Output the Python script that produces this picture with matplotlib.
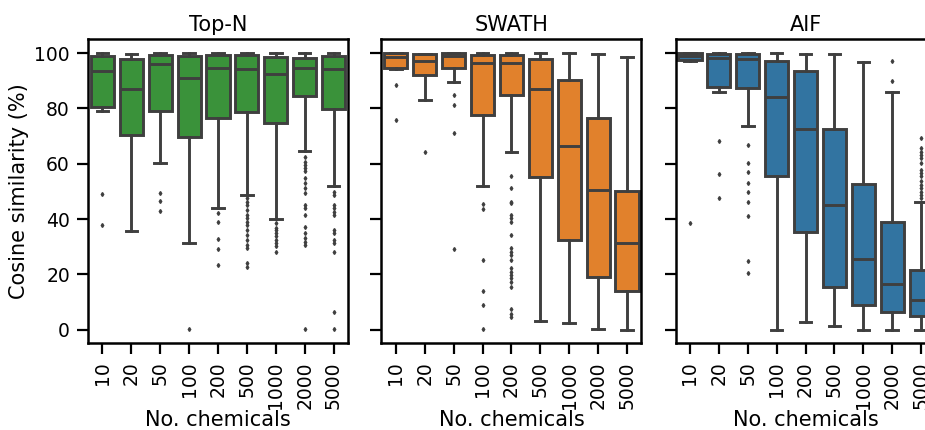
import matplotlib
matplotlib.use("Agg")
import matplotlib.pyplot as plt

plt.rcParams['font.family'] = ['DejaVu Sans']

categories = ["10", "20", "50", "100", "200", "500", "1000", "2000", "5000"]
panels = ["Top-N", "SWATH", "AIF"]
colors = ["#3a923a", "#e1812c", "#3274a1"]

# per panel: lists over categories
topn_whishi = [100, 99.8, 100, 100, 100, 100, 100, 100, 100]
topn_q3 = [99.0, 97.8, 99.5, 98.8, 99.3, 99.3, 98.6, 98.4, 98.8]
topn_med = [93.7, 87.1, 96.0, 91.0, 94.6, 94.3, 92.4, 94.5, 94.1]
topn_q1 = [80.5, 70.4, 79.0, 69.5, 76.5, 78.8, 74.7, 84.6, 79.9]
topn_whislo = [78.9, 35.5, 60.2, 31.2, 43.9, 48.6, 39.9, 64.5, 52.1]
topn_fliers = [
    [49.0, 37.9],
    [],
    [49.3, 46.7, 42.9],
    [0.1],
    [42.3, 39.1, 32.8, 29.2, 23.4],
    [47.5, 46.3, 45.1, 43.3, 41.5, 40.3, 39.1, 37.9, 36.1, 34.3, 32.4, 30.6, 29.4, 24.0, 22.8],
    [38.6, 36.8, 36.1, 34.9, 33.7, 32.4, 31.2, 30.3, 28.2],
    [62.6, 60.8, 59.6, 58.4, 57.2, 54.8, 53.0, 51.2, 49.4, 45.1, 43.9, 41.5, 37.3, 34.9, 33.1, 31.8, 30.6, 0.1],
    [49.9, 48.7, 45.1, 43.9, 42.7, 41.5, 36.1, 35.1, 32.4, 31.2, 28.2, 6.3, 0.1],
]

swath_whishi = [100, 99.8, 100, 100, 100, 100, 100, 99.8, 98.6]
swath_q3 = [99.9, 99.6, 99.9, 99.5, 99.3, 98.0, 90.4, 76.4, 50.3]
swath_med = [98.6, 97.2, 98.8, 96.4, 96.4, 87.1, 66.3, 50.4, 31.5]
swath_q1 = [94.8, 92.2, 94.8, 77.7, 84.9, 55.1, 32.3, 19.2, 13.8]
swath_whislo = [94.3, 83.1, 89.7, 52.0, 64.2, 3.3, 2.5, 0.1, 0.0]
swath_fliers = [
    [88.4, 75.8],
    [64.1],
    [84.9, 81.3, 71.1, 29.2],
    [45.5, 43.5, 25.2, 13.9, 8.9, 0.1],
    [55.7, 51.1, 46.3, 45.7, 41.5, 40.3, 39.1, 34.3, 29.4, 28.2, 27.0, 25.2, 22.2, 21.0, 19.8, 18.6, 17.4, 15.6, 7.4, 5.7, 4.7],
    [], [], [], [],
]

aif_whishi = [100, 100, 100, 100, 99.8, 99.8, 96.9, 86.0, 46.1]
aif_q3 = [99.9, 99.8, 99.8, 97.3, 93.4, 72.5, 52.6, 38.8, 21.7]
aif_med = [98.8, 98.2, 97.8, 84.1, 72.4, 45.0, 25.6, 16.5, 10.6]
aif_q1 = [97.5, 87.9, 87.3, 55.4, 35.4, 15.6, 8.9, 6.4, 5.1]
aif_whislo = [97.1, 85.9, 73.8, 0.0, 2.7, 1.3, 0.0, 0.0, 0.0]
aif_fliers = [
    [38.7],
    [68.4, 56.2, 47.5],
    [66.8, 60.2, 56.9, 53.0, 49.9, 46.0, 41.1, 24.8, 20.6],
    [], [], [], [],
    [97.2, 90.0],
    [69.2, 65.6, 64.4, 63.2, 62.0, 60.2, 57.8, 56.6, 55.4, 53.6, 52.4, 51.1, 49.9, 48.7, 47.5],
]

data = [
    (topn_whislo, topn_q1, topn_med, topn_q3, topn_whishi, topn_fliers),
    (swath_whislo, swath_q1, swath_med, swath_q3, swath_whishi, swath_fliers),
    (aif_whislo, aif_q1, aif_med, aif_q3, aif_whishi, aif_fliers),
]

line_c = "#3f3f3f"
fig = plt.figure(figsize=(9.25, 4.3), dpi=100)
lefts = [0.0951, 0.4124, 0.7303]
width = 0.2811
bottom, height = 0.2012, 0.7074

for i, (title, col, d) in enumerate(zip(panels, colors, data)):
    ax = fig.add_axes([lefts[i], bottom, width, height])
    wl, q1, med, q3, wh, fl = d
    stats = []
    for k in range(len(categories)):
        stats.append(dict(whislo=wl[k], q1=q1[k], med=med[k], q3=q3[k],
                          whishi=wh[k], fliers=fl[k], label=categories[k]))
    lw = 2.1
    ax.bxp(stats, positions=range(len(categories)), widths=0.8,
           patch_artist=True, showfliers=True,
           boxprops=dict(facecolor=col, edgecolor=line_c, linewidth=lw),
           medianprops=dict(color=line_c, linewidth=lw),
           whiskerprops=dict(color=line_c, linewidth=lw),
           capprops=dict(color=line_c, linewidth=lw),
           flierprops=dict(marker='d', markersize=2.0, markerfacecolor=line_c,
                           markeredgecolor=line_c, linestyle='none'))
    ax.set_xlim(-0.5, len(categories) - 0.5)
    ax.set_ylim(-5, 105)
    ax.set_yticks([0, 20, 40, 60, 80, 100])
    ax.set_xticks(range(len(categories)))
    ax.set_xticklabels(categories, rotation=90)
    ax.tick_params(axis='both', labelsize=13.5, length=8, width=1.6, pad=5)
    for sp in ax.spines.values():
        sp.set_linewidth(1.8)
    ax.set_title(title, fontsize=15, pad=6)
    ax.set_xlabel("No. chemicals", fontsize=15, labelpad=0.5)
    if i == 0:
        ax.set_ylabel("Cosine similarity (%)", fontsize=15)
    else:
        ax.set_yticklabels([])

fig.savefig("out.png", dpi=100)
